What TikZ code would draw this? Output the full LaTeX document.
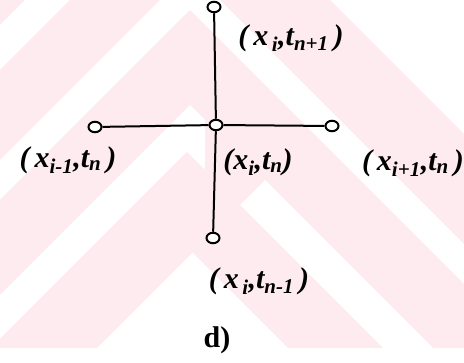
\documentclass[tikz,border=0pt]{standalone}
\usepackage{fontspec}
\setmainfont{Liberation Serif}
\usetikzlibrary{shapes.geometric}
\definecolor{pinkbg}{RGB}{253,235,239}
\tikzset{
  pt/.style={draw, ellipse, inner sep=0pt, minimum width=13pt, minimum height=10.5pt, line width=2pt, fill=white},
  lbl/.style={font=\fontsize{30}{34}\selectfont\bfseries\itshape, inner sep=0pt},
  captxt/.style={font=\fontsize{30}{34}\selectfont\bfseries, inner sep=0pt},
  edge/.style={line width=2pt},
  wm/.style={fill=pinkbg},
}
\begin{document}
\begin{tikzpicture}[x=1pt,y=-1pt]
\useasboundingbox (0,0) rectangle (464,363);
% faint watermark (nested chevrons)
\begin{scope}
  \clip (0,0) rectangle (464,348);
  \fill[wm] (0,0) -- (25,0) -- (0,25) -- cycle;
  \fill[wm] (0,70) -- (70,0) -- (160,0) -- (0,160) -- cycle;
  \fill[wm] (220,0) -- (330,0) -- (464,134) -- (464,244) -- cycle;
  \fill[wm] (0,200) -- (190,10) -- (464,284) -- (464,348) -- (433,348) -- (190,105) -- (0,295) -- cycle;
  \fill[wm] (0,339) -- (187,152) -- (383,348) -- (288,348) -- (192.5,252.5) -- (97,348) -- (0,348) -- cycle;
  \fill[wm] (205,100) -- (270,175) -- (240,205) -- (205,170) -- cycle;
\end{scope}
% stencil points
\node[pt] (top) at (214,7) {};
\node[pt] (ctr) at (216,125) {};
\node[pt] (lft) at (95,127) {};
\node[pt] (rgt) at (332,126) {};
\node[pt] (bot) at (213,238) {};
\draw[edge] (top) -- (ctr);
\draw[edge] (ctr) -- (bot);
\draw[edge] (lft) -- (ctr);
\draw[edge] (ctr) -- (rgt);
% labels
\node[lbl] (ltop) at (291,38) {(\,x\textsubscript{\,i},t\textsubscript{n+1}\,)};
\node[lbl] (llft) at (68,160) {(\,x\textsubscript{i-1},t\textsubscript{n}\,)};
\node[lbl] (lctr) at (258,162) {(x\textsubscript{i},t\textsubscript{n})};
\node[lbl, anchor=east] (lrgt) at (464,163) {(\,x\textsubscript{i+1},t\textsubscript{n}\,)};
\node[lbl] (lbot) at (259,281) {(\,x\textsubscript{\,i},t\textsubscript{n-1}\,)};
\node[captxt] (capd) at (217,340) {d)};
\end{tikzpicture}
\end{document}
